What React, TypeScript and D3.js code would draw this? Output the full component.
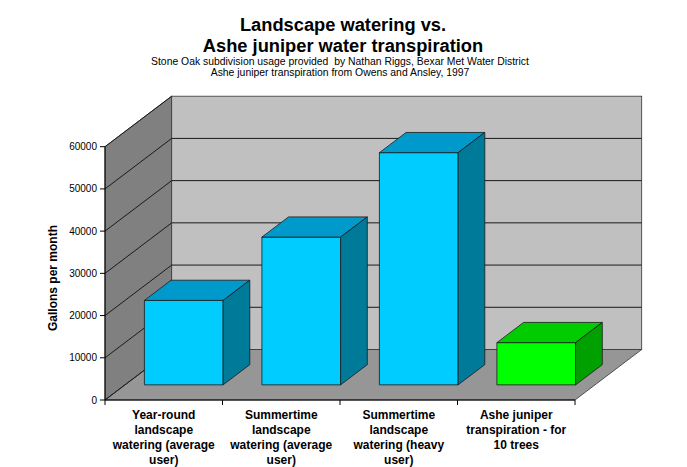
import { useEffect, useRef } from "react";
import * as d3 from "d3";

const categories = [
	["Year-round", "landscape", "watering (average", "user)"],
	["Summertime", "landscape", "watering (average", "user)"],
	["Summertime", "landscape", "watering (heavy", "user)"],
	["Ashe juniper", "transpiration - for", "10 trees"],
];
const gallons = [20000, 35000, 55000, 10000];
const yTicks = [0, 10000, 20000, 30000, 40000, 50000, 60000];
const titleLines = ["Landscape watering vs.", "Ashe juniper water transpiration"];
const subtitleLines = [
	"Stone Oak subdivision usage provided  by Nathan Riggs, Bexar Met Water District",
	"Ashe juniper transpiration from Owens and Ansley, 1997",
];

const FONT = "Arial, 'Liberation Sans', sans-serif";

const App = () => {
	const svgRef = useRef<SVGSVGElement>(null);

	useEffect(() => {
		if (!svgRef.current) return;
		const svg = d3.select(svgRef.current);
		svg.selectAll("*").remove();

		const width = 687;
		const height = 467;
		// plan avant du graphique
		const left = 105;
		const right = 575;
		const bottom = 400;
		const top = 146.7;
		// décalage de profondeur (perspective oblique)
		const depthX = 66.7;
		const depthY = -50.5;

		const x = d3
			.scaleBand<number>()
			.domain(d3.range(categories.length))
			.range([left, right])
			.padding(0);
		const y = d3.scaleLinear().domain([0, 60000]).range([bottom, top]);

		const pts = (p: [number, number][]) => p.map((d) => d.join(",")).join(" ");

		svg.attr("width", width).attr("height", height).style("display", "block");
		svg.append("rect").attr("width", width).attr("height", height).attr("fill", "#fff");

		// mur gauche
		svg
			.append("polygon")
			.attr(
				"points",
				pts([
					[left, y(60000)],
					[left + depthX, y(60000) + depthY],
					[left + depthX, bottom + depthY],
					[left, bottom],
				])
			)
			.attr("fill", "#808080")
			.attr("stroke", "#333")
			.attr("stroke-width", 0.8);

		// mur du fond
		svg
			.append("rect")
			.attr("x", left + depthX)
			.attr("y", y(60000) + depthY)
			.attr("width", right - left)
			.attr("height", bottom - y(60000))
			.attr("fill", "#C0C0C0")
			.attr("stroke", "#333")
			.attr("stroke-width", 0.8);

		// sol
		svg
			.append("polygon")
			.attr(
				"points",
				pts([
					[left, bottom],
					[right, bottom],
					[right + depthX, bottom + depthY],
					[left + depthX, bottom + depthY],
				])
			)
			.attr("fill", "#969696")
			.attr("stroke", "#333")
			.attr("stroke-width", 0.8);

		// lignes de grille
		const grid = svg.append("g").attr("stroke", "#1a1a1a").attr("stroke-width", 1);
		yTicks.forEach((v) => {
			grid
				.append("line")
				.attr("x1", left)
				.attr("y1", y(v))
				.attr("x2", left + depthX)
				.attr("y2", y(v) + depthY);
			if (v > 0 && v < 60000) {
				grid
					.append("line")
					.attr("x1", left + depthX)
					.attr("y1", y(v) + depthY)
					.attr("x2", right + depthX)
					.attr("y2", y(v) + depthY);
			}
		});

		// axes
		const axes = svg.append("g").attr("stroke", "#000").attr("stroke-width", 1);
		axes.append("line").attr("x1", left).attr("x2", left).attr("y1", y(60000)).attr("y2", bottom);
		axes.append("line").attr("x1", left).attr("x2", right).attr("y1", bottom).attr("y2", bottom);
		yTicks.forEach((v) => {
			axes.append("line").attr("x1", left - 5).attr("x2", left).attr("y1", y(v)).attr("y2", y(v));
		});
		d3.range(categories.length + 1).forEach((i) => {
			const xx = i < categories.length ? x(i)! : right;
			axes.append("line").attr("x1", xx).attr("x2", xx).attr("y1", bottom).attr("y2", bottom + 5);
		});

		svg
			.append("g")
			.selectAll("text")
			.data(yTicks)
			.enter()
			.append("text")
			.attr("x", left - 8)
			.attr("y", (d) => y(d))
			.attr("dy", "0.35em")
			.attr("text-anchor", "end")
			.style("font-family", FONT)
			.style("font-size", "10px")
			.text((d) => d);

		// barres 3D
		const barW = x.bandwidth() * 0.67;
		const d0 = 0.3;
		const d1 = 0.7;
		const faces = [
			{ front: "#00CCFF", top: "#0099CC", side: "#007A99" },
			{ front: "#00CCFF", top: "#0099CC", side: "#007A99" },
			{ front: "#00CCFF", top: "#0099CC", side: "#007A99" },
			{ front: "#00FF00", top: "#00CC00", side: "#00A000" },
		];
		gallons.forEach((v, i) => {
			const cx = x(i)! + x.bandwidth() / 2;
			const x0 = cx - barW / 2 + depthX * d0;
			const x1 = cx + barW / 2 + depthX * d0;
			const yb = bottom + depthY * d0;
			const yt = y(v) + depthY * d0;
			const ox = depthX * (d1 - d0);
			const oy = depthY * (d1 - d0);
			const g = svg.append("g").attr("stroke", "#1a1a1a").attr("stroke-width", 0.8).attr("stroke-linejoin", "round");
			g.append("polygon")
				.attr("points", pts([[x0, yt], [x1, yt], [x1, yb], [x0, yb]]))
				.attr("fill", faces[i].front);
			g.append("polygon")
				.attr("points", pts([[x0, yt], [x0 + ox, yt + oy], [x1 + ox, yt + oy], [x1, yt]]))
				.attr("fill", faces[i].top);
			g.append("polygon")
				.attr("points", pts([[x1, yt], [x1 + ox, yt + oy], [x1 + ox, yb + oy], [x1, yb]]))
				.attr("fill", faces[i].side);
		});

		// étiquettes des catégories
		categories.forEach((lines, i) => {
			const t = svg
				.append("text")
				.attr("text-anchor", "middle")
				.style("font-family", FONT)
				.style("font-size", "12px")
				.style("font-weight", "bold");
			lines.forEach((l, j) => {
				t.append("tspan")
					.attr("x", x(i)! + x.bandwidth() / 2)
					.attr("y", 419 + j * 15)
					.text(l);
			});
		});

		// titre de l'axe y
		svg
			.append("text")
			.attr("transform", `translate(57, 278) rotate(-90)`)
			.attr("text-anchor", "middle")
			.style("font-family", FONT)
			.style("font-size", "12px")
			.style("font-weight", "bold")
			.text("Gallons per month");

		// titres
		titleLines.forEach((l, i) => {
			svg
				.append("text")
				.attr("x", 343)
				.attr("y", 31 + i * 20.5)
				.attr("text-anchor", "middle")
				.style("font-family", FONT)
				.style("font-size", "18.3px")
				.style("font-weight", "bold")
				.text(l);
		});
		subtitleLines.forEach((l, i) => {
			svg
				.append("text")
				.attr("x", 340)
				.attr("y", 64.5 + i * 11)
				.attr("text-anchor", "middle")
				.style("font-family", FONT)
				.style("font-size", "10.4px")
				.style("white-space", "pre")
				.text(l);
		});
	}, []);

	return <svg ref={svgRef} style={{ position: "absolute", left: 0, top: 0 }}></svg>;
};

export default App;
